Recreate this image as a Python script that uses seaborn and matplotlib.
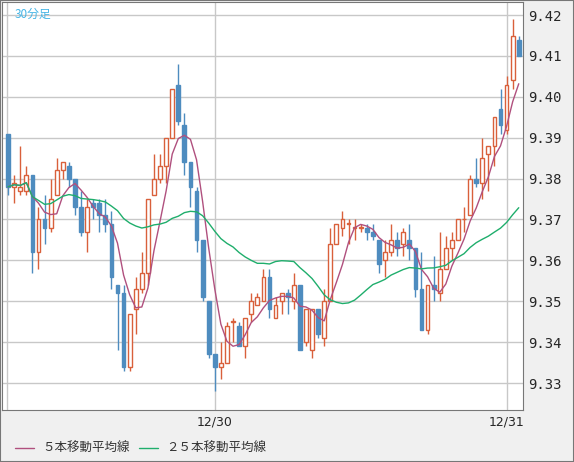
import numpy as np
import pandas as pd
import seaborn as sns
import matplotlib
matplotlib.use("Agg")
from matplotlib import pyplot as plt
from matplotlib.lines import Line2D

# 30-minute candles
opens = [9.391, 9.378, 9.377, 9.377, 9.381, 9.362, 9.370, 9.368, 9.376, 9.382,
         9.383, 9.380, 9.373, 9.367, 9.374, 9.374, 9.371, 9.369, 9.354, 9.352,
         9.334, 9.348, 9.353, 9.357, 9.376, 9.380, 9.383, 9.390, 9.403, 9.393,
         9.384, 9.377, 9.365, 9.350, 9.337, 9.334, 9.335, 9.345, 9.344, 9.339,
         9.347, 9.349, 9.350, 9.356, 9.346, 9.350, 9.352, 9.350, 9.354, 9.340,
         9.338, 9.348, 9.341, 9.350, 9.364, 9.368, 9.369, 9.368, 9.368, 9.368,
         9.367, 9.365, 9.360, 9.362, 9.365, 9.364, 9.365, 9.363, 9.353, 9.343,
         9.354, 9.352, 9.358, 9.363, 9.365, 9.370, 9.371, 9.380, 9.379, 9.386,
         9.388, 9.397, 9.392, 9.404, 9.414]
closes = [9.378, 9.379, 9.378, 9.381, 9.362, 9.370, 9.368, 9.375, 9.382, 9.384,
          9.380, 9.373, 9.367, 9.373, 9.373, 9.371, 9.369, 9.356, 9.352, 9.334,
          9.347, 9.353, 9.357, 9.375, 9.380, 9.383, 9.390, 9.402, 9.394, 9.384,
          9.378, 9.365, 9.351, 9.337, 9.334, 9.335, 9.344, 9.345, 9.339, 9.346,
          9.350, 9.351, 9.356, 9.348, 9.349, 9.352, 9.351, 9.354, 9.338, 9.348,
          9.348, 9.342, 9.350, 9.364, 9.369, 9.370, 9.369, 9.368, 9.368, 9.367,
          9.366, 9.359, 9.362, 9.365, 9.363, 9.367, 9.363, 9.353, 9.343, 9.354,
          9.353, 9.358, 9.363, 9.365, 9.370, 9.370, 9.380, 9.379, 9.385, 9.388,
          9.395, 9.393, 9.403, 9.415, 9.410]
highs = [9.391, 9.381, 9.388, 9.383, 9.381, 9.373, 9.376, 9.380, 9.385, 9.384,
         9.384, 9.380, 9.377, 9.375, 9.375, 9.375, 9.375, 9.372, 9.354, 9.354,
         9.347, 9.356, 9.362, 9.375, 9.386, 9.386, 9.390, 9.402, 9.408, 9.396,
         9.384, 9.378, 9.365, 9.350, 9.337, 9.340, 9.345, 9.346, 9.345, 9.346,
         9.352, 9.352, 9.358, 9.358, 9.351, 9.352, 9.353, 9.357, 9.354, 9.348,
         9.348, 9.348, 9.353, 9.368, 9.369, 9.372, 9.370, 9.370, 9.369, 9.369,
         9.369, 9.365, 9.365, 9.369, 9.367, 9.368, 9.369, 9.363, 9.362, 9.354,
         9.361, 9.367, 9.366, 9.367, 9.370, 9.373, 9.381, 9.385, 9.390, 9.388,
         9.395, 9.402, 9.405, 9.419, 9.415]
lows = [9.376, 9.374, 9.376, 9.376, 9.357, 9.358, 9.364, 9.367, 9.376, 9.380,
        9.378, 9.371, 9.366, 9.362, 9.370, 9.367, 9.367, 9.353, 9.338, 9.333,
        9.333, 9.342, 9.352, 9.354, 9.376, 9.379, 9.379, 9.390, 9.393, 9.381,
        9.373, 9.362, 9.350, 9.336, 9.328, 9.331, 9.335, 9.340, 9.339, 9.336,
        9.345, 9.349, 9.350, 9.346, 9.346, 9.347, 9.347, 9.348, 9.338, 9.339,
        9.336, 9.341, 9.339, 9.350, 9.364, 9.366, 9.364, 9.365, 9.367, 9.365,
        9.365, 9.357, 9.356, 9.361, 9.361, 9.361, 9.360, 9.351, 9.343, 9.342,
        9.350, 9.350, 9.358, 9.360, 9.365, 9.367, 9.371, 9.378, 9.375, 9.377,
        9.383, 9.391, 9.391, 9.402, 9.410]
y_ticks = [9.33, 9.34, 9.35, 9.36, 9.37, 9.38, 9.39, 9.40, 9.41, 9.42]
day_marks = {34: "12/30", 82: "12/31"}

UP = "#d9603b"
DOWN = "#4e8cbf"
MA5_C = "#b0507e"
MA25_C = "#1fae6c"

df = pd.DataFrame({"open": opens, "close": closes, "high": highs, "low": lows})
df["i"] = np.arange(len(df))
df["ma5"] = df["close"].rolling(5, min_periods=1).mean()
df["ma25"] = df["close"].rolling(25, min_periods=1).mean()

sns.set_style("white")
plt.rcParams["font.family"] = ["DejaVu Sans"]

fig = plt.figure(figsize=(5.74, 4.62), dpi=100, facecolor="#f0f0f0")
ax = fig.add_axes([2 / 574, 52 / 462, 521 / 574, 408 / 462])
ax.set_facecolor("white")

for t in y_ticks:
    ax.axhline(t, color="#c8c8c8", lw=1, zorder=0)
ax.axvline(-0.15, color="#c8c8c8", lw=1, zorder=0)
for k in day_marks:
    ax.axvline(k, color="#c8c8c8", lw=1, zorder=0)

up = df["close"] >= df["open"]
for sub, col, face in [(df[up], UP, "white"), (df[~up], DOWN, DOWN)]:
    ax.vlines(sub["i"], sub["low"], sub["high"], color=col, lw=1, zorder=2)
    bottom = np.minimum(sub["open"], sub["close"])
    height = np.maximum(np.abs(sub["close"] - sub["open"]), 0.00015)
    ax.bar(sub["i"], height, bottom=bottom, width=0.62, facecolor=face,
           edgecolor=col, linewidth=1, zorder=3)

sns.lineplot(data=df, x="i", y="ma5", ax=ax, color=MA5_C, lw=1, zorder=4)
sns.lineplot(data=df, x="i", y="ma25", ax=ax, color=MA25_C, lw=1, zorder=4)

ax.set_xlim(-1, 84.7)
ax.set_ylim(9.3234, 9.4232)
ax.yaxis.tick_right()
ax.set_yticks(y_ticks)
ax.set_yticklabels([f"{t:.2f}" for t in y_ticks], family="DejaVu Sans Mono", fontsize=10)
ax.set_xticks(list(day_marks.keys()))
ax.set_xticklabels(list(day_marks.values()), fontsize=9)
ax.tick_params(length=0, pad=4)
ax.set_xlabel("")
ax.set_ylabel("")
for s in ax.spines.values():
    s.set_color("#777777")

ax.text(0.025, 0.985, "30分足", transform=ax.transAxes, color="#45b5e6",
        fontsize=8.5, va="top", family=["Noto Sans CJK JP", "DejaVu Sans"])

cjk = ["Noto Sans CJK JP", "DejaVu Sans"]
fig.add_artist(Line2D([15 / 574, 34 / 574], [14 / 462, 14 / 462], color=MA5_C, lw=1))
fig.text(42 / 574, 14 / 462, "５本移動平均線", fontsize=9, va="center", family=cjk, color="#333333")
fig.add_artist(Line2D([139 / 574, 158 / 574], [14 / 462, 14 / 462], color=MA25_C, lw=1))
fig.text(166 / 574, 14 / 462, "２５本移動平均線", fontsize=9, va="center", family=cjk, color="#333333")
fig.add_artist(plt.Rectangle((0, 0), 1, 1, transform=fig.transFigure, fill=False,
                             edgecolor="#777777", lw=1.5))

fig.savefig("out.png", dpi=100, facecolor=fig.get_facecolor())
